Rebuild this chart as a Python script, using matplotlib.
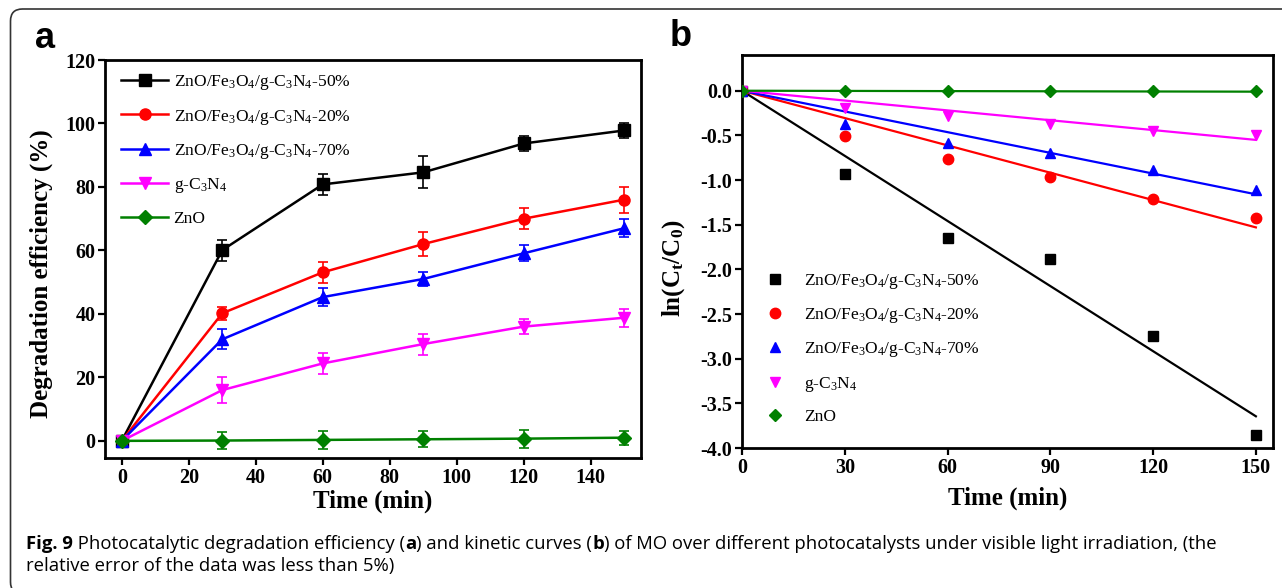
import numpy as np
import matplotlib
matplotlib.use('Agg')
import matplotlib.pyplot as plt
from matplotlib.patches import FancyBboxPatch
from matplotlib.transforms import IdentityTransform

plt.rcParams['font.family'] = 'Liberation Serif'
plt.rcParams['mathtext.fontset'] = 'custom'
plt.rcParams['mathtext.rm'] = 'Liberation Serif'
plt.rcParams['mathtext.it'] = 'Liberation Serif:italic'
plt.rcParams['mathtext.bf'] = 'Liberation Serif:bold'

# ---- data ----
time = [0, 30, 60, 90, 120, 150]
labels = [r'ZnO/Fe$_3$O$_4$/g-C$_3$N$_4$-50%',
          r'ZnO/Fe$_3$O$_4$/g-C$_3$N$_4$-20%',
          r'ZnO/Fe$_3$O$_4$/g-C$_3$N$_4$-70%',
          r'g-C$_3$N$_4$',
          'ZnO']
colors = ['black', '#ff0000', '#0000ff', '#ff00ff', '#008000']
markers = ['s', 'o', '^', 'v', 'D']

# (a) degradation efficiency (%)
eff_50 = [0, 60.1, 80.8, 84.6, 93.7, 97.8]
eff_20 = [0, 40.2, 53.1, 62.0, 70.0, 76.0]
eff_70 = [0, 32.0, 45.3, 51.0, 59.1, 67.0]
eff_gcn = [0, 16.0, 24.4, 30.5, 36.0, 38.8]
eff_zno = [0, 0.1, 0.3, 0.5, 0.7, 1.0]
err_50 = [0, 3.3, 3.3, 5.0, 2.5, 2.4]
err_20 = [0, 2.0, 3.4, 3.8, 3.3, 4.1]
err_70 = [0, 3.2, 2.8, 2.2, 2.5, 2.9]
err_gcn = [0, 4.2, 3.3, 3.3, 2.4, 2.8]
err_zno = [0, 2.6, 2.9, 2.5, 2.8, 2.2]

# (b) ln(Ct/C0)
ln_50 = [0, -0.93, -1.65, -1.88, -2.75, -3.85]
ln_20 = [0, -0.51, -0.76, -0.97, -1.21, -1.43]
ln_70 = [0, -0.37, -0.59, -0.70, -0.89, -1.11]
ln_gcn = [0, -0.19, -0.28, -0.37, -0.45, -0.50]
ln_zno = [0, -0.003, -0.005, -0.008, -0.008, -0.008]
# fitted rate constants (slope of linear fit through origin)
fit_k = [-0.0243, -0.0102, -0.00773, -0.00367, -0.00007]

eff = [eff_50, eff_20, eff_70, eff_gcn, eff_zno]
errs = [err_50, err_20, err_70, err_gcn, err_zno]
lns = [ln_50, ln_20, ln_70, ln_gcn, ln_zno]

W, H = 1282, 588
fig = plt.figure(figsize=(W / 100, H / 100), dpi=100)

ax_a = fig.add_axes([105 / W, 1 - 458 / H, 536 / W, 398 / H])
ax_b = fig.add_axes([742 / W, 1 - 448 / H, 531 / W, 393 / H])


def style_axes(ax):
    for sp in ax.spines.values():
        sp.set_linewidth(2.0)
    ax.tick_params(direction='out', length=5, width=1.6, labelsize=14.5, pad=2,
                   top=False, right=False)
    for lab in ax.get_xticklabels() + ax.get_yticklabels():
        lab.set_fontweight('bold')


# ---- panel a ----
for y, e, c, m, lab in zip(eff, errs, colors, markers, labels):
    ax_a.errorbar(time, y, yerr=e, fmt='none', ecolor=c, elinewidth=1.2,
                  capsize=3.5, capthick=1.2, zorder=2)
    ax_a.plot(time, y, color=c, marker=m, lw=1.8,
              markersize=7 if m == 'D' else 8, label=lab, zorder=3)

ax_a.set_xlim(-5, 155)
ax_a.set_ylim(-5.4, 120)
ax_a.set_xticks(np.arange(0, 141, 20))
ax_a.set_yticks(np.arange(0, 121, 20))
style_axes(ax_a)
ax_a.set_xlabel('Time (min)', fontsize=18, fontweight='bold')
ax_a.set_ylabel('Degradation efficiency (%)', fontsize=18, fontweight='bold')
ax_a.xaxis.set_label_coords(0.5, -0.080)
ax_a.yaxis.set_label_coords(-0.097, 0.462)
ax_a.legend(loc='upper left', bbox_to_anchor=(0.030, 0.967), frameon=False,
            borderpad=0, borderaxespad=0, handlelength=2.7, handletextpad=0.3,
            labelspacing=0.88, prop={'size': 12.6})

# ---- panel b ----
for y, k, c, m, lab in zip(lns, fit_k, colors, markers, labels):
    ax_b.plot(time, y, ls='none', color=c, marker=m,
              markersize=6.5 if m == 'D' else 7.5, label=lab, zorder=3)
    ax_b.plot([time[0], time[-1]], [k * time[0], k * time[-1]], color=c,
              lw=1.6, zorder=2)

ax_b.set_xlim(0, 155)
ax_b.set_ylim(-4.0, 0.4)
ax_b.set_xticks(np.arange(0, 151, 30))
ax_b.set_yticks(np.arange(-4.0, 0.01, 0.5))
ax_b.yaxis.set_major_formatter(matplotlib.ticker.FormatStrFormatter('%.1f'))
style_axes(ax_b)
ax_b.set_xlabel('Time (min)', fontsize=18, fontweight='bold')
ax_b.set_ylabel(r'ln(C$_\mathbf{t}$/C$_\mathbf{0}$)', fontsize=18, fontweight='bold')
ax_b.xaxis.set_label_coords(0.5, -0.099)
ax_b.yaxis.set_label_coords(-0.104, 0.458)
ax_b.legend(loc='upper left', bbox_to_anchor=(0.045, 0.448), frameon=False,
            borderpad=0, borderaxespad=0, handlelength=1.0, handletextpad=1.2,
            labelspacing=0.88, numpoints=1, prop={'size': 12.5})

# panel letters
fig.text(45 / W, 1 - 39 / H, 'a', fontsize=26, fontweight='bold',
         family='Liberation Sans', ha='center', va='center')
fig.text(681 / W, 1 - 37 / H, 'b', fontsize=26, fontweight='bold',
         family='Liberation Sans', ha='center', va='center')

# caption
cap_font = dict(family='Open Sans', fontsize=13.3)
pieces = [('Fig. 9', 'bold'),
          (' Photocatalytic degradation efficiency (', 'normal'),
          ('a', 'bold'),
          (') and kinetic curves (', 'normal'),
          ('b', 'bold'),
          (') of MO over different photocatalysts under visible light irradiation, (the', 'normal')]
prev = fig.text(26 / W, 1 - 549 / H, pieces[0][0], fontweight=pieces[0][1],
                va='baseline', ha='left', **cap_font)
for txt, wt in pieces[1:]:
    prev = ax_a.annotate(txt, xy=(1, 0), xycoords=prev, xytext=(0, 0),
                         textcoords='offset points', ha='left', va='bottom',
                         fontweight=wt, annotation_clip=False, **cap_font)
fig.text(26 / W, 1 - 571 / H, 'relative error of the data was less than 5%)',
         va='baseline', ha='left', **cap_font)

# outer rounded frame
frame = FancyBboxPatch((10.5, -6), 1320, 585, boxstyle='round,pad=0,rounding_size=12',
                       transform=IdentityTransform(), fill=False,
                       edgecolor='#333333', linewidth=1.2)
fig.add_artist(frame)

fig.savefig('out.png', dpi=100)
